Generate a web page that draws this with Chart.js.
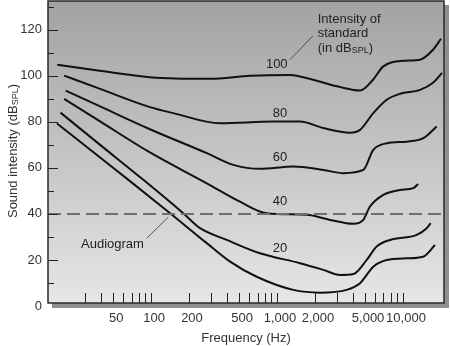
<!DOCTYPE html>
<html><head><meta charset="utf-8">
<script src="https://cdn.jsdelivr.net/npm/chart.js@4/dist/chart.umd.min.js"></script>
<style>html,body{margin:0;padding:0;background:#fff;}canvas{display:block;}</style>
</head><body>
<canvas id="c" width="450" height="346"></canvas>
<script>
// ---- data (frequency in Hz, intensity in dB SPL) ----
const hz100 = [18, 39, 98, 294, 611, 1268, 1523, 1932, 3162, 4560, 5780, 6940, 10000, 13650, 17300, 20050];
const db100 = [104.8, 102.2, 99.4, 98.7, 100.0, 100.4, 99.7, 98.3, 95.1, 93.6, 98.3, 104.0, 106.5, 107.0, 111.3, 116.1];

const hz80 = [20.4, 39.4, 98, 150, 353, 936, 1523, 2330, 3790, 4560, 5810, 7430, 9460, 13650, 17300, 20400];
const db80 = [100.1, 94.3, 86.4, 83.8, 79.4, 80.1, 80.1, 77.3, 75.3, 76.5, 83.8, 89.6, 92.2, 93.9, 97.0, 101.3];

const hz60 = [21, 39.4, 98, 277, 450, 733, 1346, 2330, 3360, 4840, 5810, 7430, 10700, 14500, 18500];
const db60 = [93.6, 86.7, 76.8, 66.4, 61.3, 59.6, 60.6, 59.1, 57.7, 59.1, 67.8, 70.7, 71.4, 72.9, 78.0];

const hz40 = [20.4, 39.4, 98, 277, 508, 828, 1722, 2640, 4040, 4840, 5470, 6980, 9460, 12080, 13200];
const db40 = [90.0, 80.2, 66.7, 53.3, 45.3, 40.3, 39.6, 37.4, 35.7, 37.4, 43.2, 48.3, 50.4, 51.2, 53.0];

const hz20 = [19.1, 39.4, 86.9, 180, 245, 399, 733, 1523, 2330, 3162, 4040, 5150, 6180, 7890, 12850, 15420, 16600];
const db20 = [84.0, 70.0, 54.8, 40.3, 33.8, 28.7, 22.9, 18.6, 15.7, 13.5, 13.9, 20.0, 25.8, 28.7, 30.9, 33.8, 36.0];

const hzAudiogram = [17.9, 39.4, 66.1, 141.6, 277, 424, 690, 1346, 2190, 3570, 4560, 5810, 7430, 10700, 14420, 17950];
const dbAudiogram = [79.3, 64.5, 54.8, 40.3, 27.3, 19.3, 12.7, 7.0, 5.8, 7.0, 9.9, 17.1, 20.0, 20.7, 21.4, 26.5];

const referenceLevel = 40;

const xTickMarks = [30,40,50,60,70,80,90,100,200,300,400,500,600,700,800,900,1000,
                    2000,3000,4000,5000,6000,7000,8000,9000,10000];
const xTickLabels = [50,100,200,500,1000,2000,5000,10000];
const yTickLabels = [0,20,40,60,80,100,120];
const yMinorTicks = [10,30,50,70,90,110,130];

const curveNames = ['100','80','60','40','20'];

// ---- layout / style ----
const X_MIN = 15.2, X_MAX = 21160, Y_MIN = 1.3, Y_MAX = 132.5;
const FONT = '"Liberation Sans", Arial, Helvetica, sans-serif';
const TXT = '#333';

const curves = [
  {hz: hz100, db: db100}, {hz: hz80, db: db80}, {hz: hz60, db: db60},
  {hz: hz40, db: db40}, {hz: hz20, db: db20}, {hz: hzAudiogram, db: dbAudiogram}
];
function pts(hz, db){ return hz.map((f,i)=>({x:f, y:db[i]})); }

// annotation anchors in data space
const curveLabelPos = [[995,104.8],[1057,83.8],[1057,64.5],[1057,45.3],[1057,25.1]];
const audiogramLabelPos = [49.4, 26.8];
const audiogramLeader = [[92.4,29.4],[137,38.6]];
const noteLeft = 2104, noteLines = [124.3, 118.2, 112.1];
const noteLeader = [[1268,107],[1932,117.4]];

function subText(ctx, parts, x, y, align){
  const big = '13px ' + FONT, small = '9px ' + FONT;
  let w = 0;
  parts.forEach(p => { ctx.font = p[1] ? small : big; w += ctx.measureText(p[0]).width; });
  let cx = align === 'center' ? x - w/2 : x;
  ctx.textAlign = 'left';
  parts.forEach(p => {
    ctx.font = p[1] ? small : big;
    ctx.fillText(p[0], cx, p[1] ? y + 3 : y);
    cx += ctx.measureText(p[0]).width;
  });
}

const decor = {
  id: 'decor',
  beforeDraw(chart){
    const {ctx, chartArea: a} = chart;
    ctx.save();
    ctx.fillStyle = '#8f8f8f';
    ctx.fillRect(a.left + 4, a.bottom, a.right - a.left + 1, 5);
    ctx.fillRect(a.right, a.top + 4, 5, a.bottom - a.top + 1);
    const g = ctx.createLinearGradient(0, a.top, 0, a.bottom);
    g.addColorStop(0, '#a2a2a2');
    g.addColorStop(1, '#e6e6e6');
    ctx.fillStyle = g;
    ctx.fillRect(a.left, a.top, a.right - a.left, a.bottom - a.top);
    ctx.restore();
  },
  afterDraw(chart){
    const {ctx, chartArea: a, scales: {x, y}} = chart;
    ctx.save();
    ctx.strokeStyle = '#222'; ctx.lineWidth = 1;
    ctx.beginPath();
    xTickMarks.forEach(v => { const px = Math.round(x.getPixelForValue(v)) + 0.5; ctx.moveTo(px, a.bottom); ctx.lineTo(px, a.bottom - 10); });
    yTickLabels.forEach(v => { if (v <= Y_MIN) return; const py = Math.round(y.getPixelForValue(v)) + 0.5; ctx.moveTo(a.left, py); ctx.lineTo(a.left + 10, py); });
    yMinorTicks.forEach(v => { const py = Math.round(y.getPixelForValue(v)) + 0.5; ctx.moveTo(a.left, py); ctx.lineTo(a.left + 6, py); });
    ctx.stroke();
    ctx.strokeStyle = '#2a2a2a'; ctx.lineWidth = 1.5;
    ctx.strokeRect(a.left, a.top, a.right - a.left, a.bottom - a.top);
    ctx.fillStyle = '#222'; ctx.textBaseline = 'middle'; ctx.textAlign = 'center';
    ctx.font = '13px ' + FONT;
    curveNames.forEach((t,i) => ctx.fillText(t, x.getPixelForValue(curveLabelPos[i][0]), y.getPixelForValue(curveLabelPos[i][1])));
    ctx.fillText('Audiogram', x.getPixelForValue(audiogramLabelPos[0]), y.getPixelForValue(audiogramLabelPos[1]));
    ctx.strokeStyle = '#333'; ctx.lineWidth = 0.8;
    ctx.beginPath();
    [audiogramLeader, noteLeader].forEach(l => {
      ctx.moveTo(x.getPixelForValue(l[0][0]), y.getPixelForValue(l[0][1]));
      ctx.lineTo(x.getPixelForValue(l[1][0]), y.getPixelForValue(l[1][1]));
    });
    ctx.stroke();
    const nx = x.getPixelForValue(noteLeft);
    ctx.textAlign = 'left';
    ctx.fillText('Intensity of', nx, y.getPixelForValue(noteLines[0]));
    ctx.fillText('standard', nx, y.getPixelForValue(noteLines[1]));
    subText(ctx, [['(in dB',0],['SPL',1],[')',0]], nx, y.getPixelForValue(noteLines[2]), 'left');
    ctx.fillStyle = TXT;
    ctx.translate(13, (a.top + a.bottom) / 2 - 1);
    ctx.rotate(-Math.PI/2);
    subText(ctx, [['Sound intensity (dB',0],['SPL',1],[')',0]], 0, 0, 'center');
    ctx.restore();
  }
};

new Chart(document.getElementById('c'), {
  type: 'line',
  data: {
    datasets: [
      {data: [{x: X_MIN, y: referenceLevel}, {x: X_MAX, y: referenceLevel}], borderColor: '#6e6e6e', borderWidth: 2,
       borderDash: [13, 6], pointRadius: 0, tension: 0},
      ...curves.map(c => ({data: pts(c.hz, c.db), borderColor: '#111', borderWidth: 2, pointRadius: 0,
        cubicInterpolationMode: 'monotone', fill: false}))
    ]
  },
  options: {
    responsive: false, animation: false, devicePixelRatio: 1,
    layout: {padding: {top: 1, right: 6, left: 0, bottom: 0}},
    plugins: {legend: {display: false}, tooltip: {enabled: false}},
    scales: {
      x: {
        type: 'logarithmic', min: X_MIN, max: X_MAX, bounds: 'data',
        grid: {display: false, drawTicks: false}, border: {display: false},
        afterBuildTicks: s => { s.ticks = xTickMarks.map(v => ({value: v})); },
        afterFit: s => { s.height = 43; s.paddingLeft = 0; s.paddingRight = 0; },
        ticks: {autoSkip: false, maxRotation: 0, minRotation: 0, padding: 8, labelOffset: 3, color: TXT,
          font: {family: FONT, size: 13},
          callback: v => xTickLabels.includes(v) ? v.toLocaleString('en-US') : ''},
        title: {display: true, text: 'Frequency (Hz)', color: TXT, font: {family: FONT, size: 13}, padding: {top: 0, bottom: 0}}
      },
      y: {
        type: 'linear', min: Y_MIN, max: Y_MAX, bounds: 'data',
        grid: {display: false, drawTicks: false}, border: {display: false},
        afterBuildTicks: s => { s.ticks = yTickLabels.map(v => ({value: v})); },
        afterFit: s => { s.width = 48; s.paddingTop = 0; s.paddingBottom = 0; },
        ticks: {autoSkip: false, padding: 6, color: TXT, font: {family: FONT, size: 13}, callback: v => String(v)}
      }
    }
  },
  plugins: [decor]
});
</script>
</body></html>
